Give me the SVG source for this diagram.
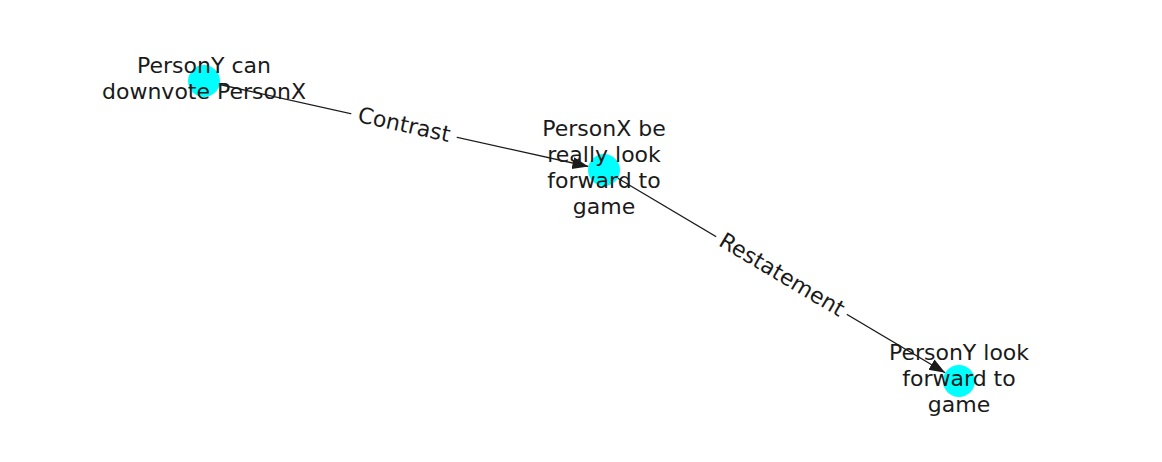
<svg xmlns="http://www.w3.org/2000/svg" width="1162" height="462" viewBox="0 0 1162 462">
<style>
.n{fill:#00ffff}
.t{font-family:"DejaVu Sans",sans-serif;font-size:22px;fill:#1a1a1a;text-anchor:middle;dominant-baseline:central}
.e{stroke:#1a1a1a;stroke-width:1.3;fill:none}
.lb{fill:#ffffff}
</style>
<defs>
<marker id="ah" markerUnits="userSpaceOnUse" markerWidth="17" markerHeight="13" refX="16" refY="6" orient="auto">
<path d="M0,0 L16,6 L0,12 Z" fill="#1a1a1a"/>
</marker>
</defs>
<g id="connectors">
<line class="e" x1="219.6" y1="84.5" x2="588.4" y2="166.5" marker-end="url(#ah)"/>
<line class="e" x1="617.8" y1="178.2" x2="945.2" y2="372.8" marker-end="url(#ah)"/>
<g transform="translate(404,125.5) rotate(12.5)">
<rect class="lb" x="-54" y="-14" width="108" height="28"/>
<text class="t" x="0" y="-1">Contrast</text>
</g>
<g transform="translate(781.5,275.5) rotate(30.7)">
<rect class="lb" x="-76" y="-14" width="152" height="28"/>
<text class="t" x="0" y="-1">Restatement</text>
</g>
</g>
<g id="node1">
<circle class="n" cx="204" cy="81" r="16"/>
<text class="t" x="204" y="65.5">PersonY can</text>
<text class="t" x="204" y="91.5">downvote PersonX</text>
</g>
<g id="node2">
<circle class="n" cx="604" cy="170" r="16"/>
<text class="t" x="604" y="128.5">PersonX be</text>
<text class="t" x="604" y="154.5">really look</text>
<text class="t" x="604" y="180.5">forward to</text>
<text class="t" x="604" y="206.5">game</text>
</g>
<g id="node3">
<circle class="n" cx="959" cy="381" r="16"/>
<text class="t" x="959" y="352.5">PersonY look</text>
<text class="t" x="959" y="378.5">forward to</text>
<text class="t" x="959" y="404.5">game</text>
</g>
</svg>
